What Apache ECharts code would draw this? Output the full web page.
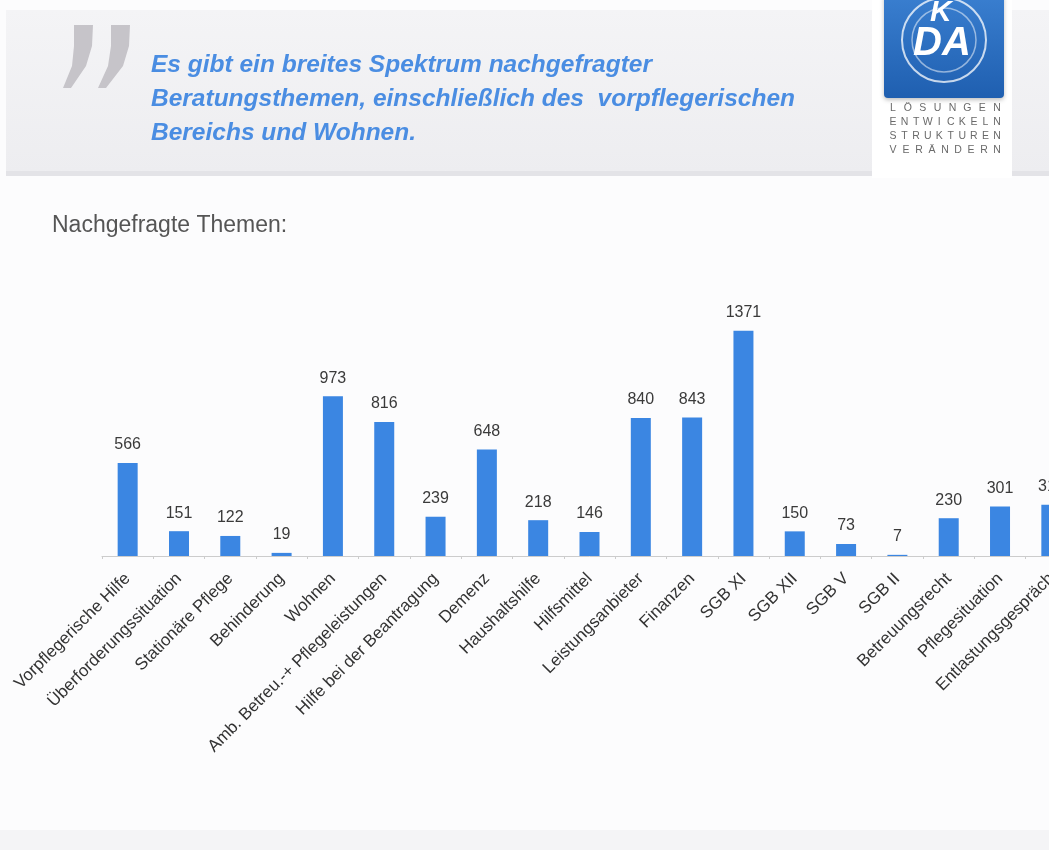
<!DOCTYPE html>
<html>
<head>
<meta charset="utf-8">
<script src="https://cdn.jsdelivr.net/npm/echarts@6/dist/echarts.min.js"></script>
<style>
  html, body { margin: 0; padding: 0; background: #fcfcfd; overflow: hidden; }
  #chart { width: 1100px; height: 850px; }
</style>
</head>
<body>
<div id="chart"></div>
<script>
// Nachgefragte Themen (Anzahl)
const themen = [
  "Vorpflegerische Hilfe", "Überforderungssituation", "Stationäre Pflege", "Behinderung",
  "Wohnen", "Amb. Betreu.-+ Pflegeleistungen", "Hilfe bei der Beantragung", "Demenz",
  "Haushaltshilfe", "Hilfsmittel", "Leistungsanbieter", "Finanzen", "SGB XI", "SGB XII",
  "SGB V", "SGB II", "Betreuungsrecht", "Pflegesituation", "Entlastungsgespräch"
];
const anzahl = [566, 151, 122, 19, 973, 816, 239, 648, 218, 146, 840, 843, 1371, 150, 73, 7, 230, 301, 312];

const titleLines = [
  "Es gibt ein breites Spektrum nachgefragter",
  "Beratungsthemen, einschließlich des  vorpflegerischen",
  "Bereichs und Wohnen."
];
const claimLines = ["LÖSUNGEN", "ENTWICKELN", "STRUKTUREN", "VERÄNDERN"];

const chart = echarts.init(document.getElementById("chart"));

const graphics = [
  // grauer Kopfbereich
  {
    type: "rect", z: -10,
    shape: { x: 6, y: 10, width: 1094, height: 163 },
    style: {
      fill: new echarts.graphic.LinearGradient(0, 0, 0, 1, [
        { offset: 0, color: "#f4f4f6" },
        { offset: 1, color: "#ededf0" }
      ])
    }
  },
  {
    type: "rect", z: -9,
    shape: { x: 6, y: 171, width: 1094, height: 5 },
    style: { fill: "#e3e3e7" }
  },
  // Anführungszeichen
  {
    type: "polygon",
    shape: { points: [[74, 25], [93, 25], [92, 46], [86, 66], [71, 88], [63, 88], [72, 66], [74, 46]] },
    style: { fill: "#c6c4c9" }
  },
  {
    type: "polygon",
    shape: { points: [[111, 25], [130, 25], [129, 46], [123, 66], [106, 88], [98, 88], [108, 66], [111, 46]] },
    style: { fill: "#c6c4c9" }
  },
  // Logo-Spalte
  {
    type: "rect", z: -8,
    shape: { x: 872, y: 0, width: 140, height: 178 },
    style: { fill: "#ffffff" }
  },
  {
    type: "rect",
    shape: { x: 884, y: -6, width: 120, height: 104, r: 4 },
    style: {
      fill: new echarts.graphic.LinearGradient(0, 0, 0, 1, [
        { offset: 0, color: "#3a7fd0" },
        { offset: 1, color: "#1f5fb0" }
      ]),
      shadowBlur: 4, shadowColor: "rgba(0,0,0,0.25)", shadowOffsetY: 2
    }
  },
  {
    type: "circle",
    shape: { cx: 944, cy: 40, r: 42 },
    style: { fill: "none", stroke: "rgba(255,255,255,0.75)", lineWidth: 2 }
  },
  {
    type: "circle",
    shape: { cx: 944, cy: 40, r: 32 },
    style: { fill: "none", stroke: "rgba(255,255,255,0.5)", lineWidth: 1.5 }
  },
  {
    type: "text", left: 930, top: -2,
    style: { text: "K", fill: "#ffffff", font: "bold italic 30px 'Liberation Sans'" }
  },
  {
    type: "text", left: 913, top: 24,
    style: { text: "DA", fill: "#ffffff", font: "bold italic 40px 'Liberation Sans'" }
  },
  // Unterer Rand
  {
    type: "rect", z: -10,
    shape: { x: 0, y: 830, width: 1100, height: 20 },
    style: { fill: "#f4f4f6" }
  }
];

titleLines.forEach(function (line, i) {
  graphics.push({
    type: "text", left: 151, top: 53 + i * 34,
    style: { text: line, fill: "#4a8de2", font: "bold italic 24.5px 'Liberation Sans'" }
  });
});

claimLines.forEach(function (line, i) {
  const letters = line.split("");
  const step = 104 / (letters.length - 1);
  letters.forEach(function (ch, j) {
    graphics.push({
      type: "text", x: 893 + j * step, y: 108 + i * 14,
      style: {
        text: ch, fill: "#6a6a6a", font: "10.5px 'Liberation Sans'",
        align: "center", verticalAlign: "middle"
      }
    });
  });
});

graphics.push({
  type: "text", left: 52, top: 214,
  style: { text: "Nachgefragte Themen:", fill: "#555555", font: "23px 'Liberation Sans'" }
});

const option = {
  backgroundColor: "transparent",
  animation: false,
  graphic: graphics,
  grid: { left: 102, width: 975, top: 326, bottom: 294, containLabel: false },
  xAxis: {
    type: "category",
    data: themen,
    axisLine: { lineStyle: { color: "#cccccc", width: 1 } },
    axisTick: { show: true, length: 3, lineStyle: { color: "#cccccc" } },
    axisLabel: {
      interval: 0, rotate: 45, margin: 20,
      color: "#333333", fontSize: 17, fontFamily: "Liberation Sans"
    }
  },
  yAxis: {
    type: "value", min: 0, max: 1400,
    show: false, splitLine: { show: false }
  },
  series: [{
    type: "bar",
    data: anzahl,
    barWidth: 20,
    itemStyle: { color: "#3b86e2" },
    label: {
      show: true, position: "top", distance: 10,
      color: "#3a3a3a", fontSize: 16, fontFamily: "Liberation Sans"
    }
  }]
};

chart.setOption(option);
</script>
</body>
</html>
